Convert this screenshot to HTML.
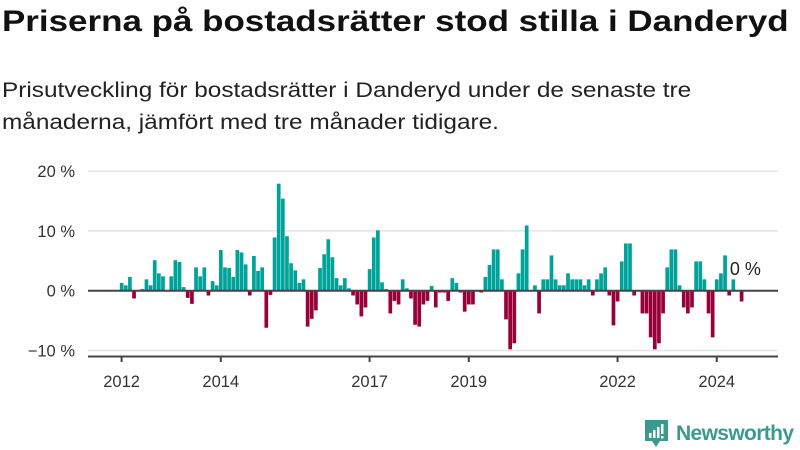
<!DOCTYPE html>
<html><head><meta charset="utf-8"><style>
body{margin:0;width:800px;height:450px;background:#fff;font-family:"Liberation Sans",sans-serif;overflow:hidden;position:relative}
h1{position:absolute;left:2px;top:5px;margin:0;font-size:30px;font-weight:bold;color:#111;transform-origin:0 0;transform:scaleX(1.165);white-space:nowrap}
p.sub{position:absolute;left:2px;top:75px;margin:0;font-size:21px;line-height:32px;color:#222;transform-origin:0 0;transform:scaleX(1.16);white-space:nowrap}
svg{position:absolute;left:0;top:0}
</style></head><body>
<h1>Priserna på bostadsrätter stod stilla i Danderyd</h1>
<p class="sub">Prisutveckling för bostadsrätter i Danderyd under de senaste tre<br>månaderna, jämfört med tre månader tidigare.</p>
<svg id="chart" width="800" height="450"></svg>
<script>
const startYear = 2012;
const values = [1.3,0.9,2.3,-1.3,0,0.3,1.9,0.9,5.1,2.9,2.4,0,2.4,5.1,4.8,0.6,-1.2,-2.2,3.9,2.4,3.9,-0.8,1.6,0.9,6.8,3.9,3.8,2.3,6.8,6.4,4.4,-0.8,5.8,3.3,3.9,-6.2,-0.7,8.9,17.9,15.4,9.1,4.6,3.4,1.3,1.9,-6.0,-4.7,-3.3,3.8,6.1,8.6,
5.6,2.1,0.9,2.1,0.4,-0.8,-2.3,-4.3,-2.8,3.6,8.9,10.1,1.4,0.3,-3.8,-1.7,-2.3,1.9,0.4,-1.3,-5.7,-6.0,-2.3,-1.7,0.8,-2.8,-0.3,-0.3,-1.7,2.1,1.3,-0.3,-3.5,-2.3,-2.3,0,-0.3,2.3,4.3,6.9,6.9,1.9,-4.8,-9.8,-8.8,2.9,6.9,10.9,0,0.9,-3.8,1.9,1.9,5.9,1.9,0.9,
0.9,2.9,1.9,1.9,1.9,0.9,1.9,-0.8,1.9,2.9,3.9,-0.8,-5.8,-1.8,4.9,7.9,7.9,-0.8,0,-3.8,-3.8,-7.8,-9.8,-8.8,-3.8,3.9,6.9,6.9,0.9,-2.8,-3.8,-2.8,4.9,4.9,1.9,-3.8,-7.8,1.9,2.9,5.9,-0.8,1.9,0,-1.8,0];
const yTicks = [-10,0,10,20];
const yTickLabels = ["−10 %","0 %","10 %","20 %"];
const xTickYears = [2012,2014,2017,2019,2022,2024];
const lastLabel = "0 %";

const NS="http://www.w3.org/2000/svg";
const svg=document.getElementById('chart');
const monthW=4.133, x0=119.8;
function x(i){return x0+i*monthW;}
function xYear(yr){return x((yr-startYear)*12)+1.8;}
function y(v){return 290.7-v*5.98;}
function mk(tag,attrs){const e=document.createElementNS(NS,tag);for(const k in attrs)e.setAttribute(k,attrs[k]);svg.appendChild(e);return e;}
yTicks.forEach((t,k)=>{
  if(t!==0){const g=mk('line',{x1:88,x2:778,y1:y(t),y2:y(t),stroke:'#e3e3e3','stroke-width':1.5});
  
  }
  const l=mk('text',{x:75,y:y(t)+6,'text-anchor':'end','font-size':16.5,fill:'#333','font-family':'Liberation Sans, sans-serif'});
  l.textContent=yTickLabels[k];
  
  
});
values.forEach((v,i)=>{
  if(v===0)return;
  const top=Math.min(y(v),y(0)), h=Math.abs(y(v)-y(0));
  const r=mk('rect',{x:x(i),y:top,width:3.7,height:h,fill:v>0?'#00a39a':'#990038'});
  
  
});
const z=mk('line',{x1:88,x2:778,y1:y(0),y2:y(0),stroke:'#444','stroke-width':2});


const ax=mk('line',{x1:88,x2:778,y1:356.5,y2:356.5,stroke:'#444','stroke-width':2});


xTickYears.forEach(yr=>{
  const tk=mk('line',{x1:xYear(yr),x2:xYear(yr),y1:356,y2:362,stroke:'#444','stroke-width':2});
  
  
  const t=mk('text',{x:xYear(yr),y:387,'text-anchor':'middle','font-size':16.5,fill:'#333','font-family':'Liberation Sans, sans-serif'});
  t.textContent=yr;
  
  
});
const ll=mk('text',{x:x(values.length-1)-14,y:275,'font-size':18,fill:'#222','font-family':'Liberation Sans, sans-serif'});
ll.textContent=lastLabel;


</script>
<svg width="800" height="450" style="pointer-events:none">
<path d="M645 420 h23 v21 h-8 l-4 6 l-4 -6 h-7 z" fill="#3a9a8f"/>
<rect x="649" y="433" width="2.5" height="5" fill="#fff"/><rect x="653" y="430" width="2.5" height="8" fill="#fff"/><rect x="657" y="427" width="2.5" height="11" fill="#fff"/><rect x="661" y="424" width="2.5" height="10" fill="#fff"/><rect x="661" y="436" width="2.5" height="2.5" fill="#fff"/>
<text x="676" y="440" font-size="21" font-weight="bold" fill="#3a9a8f" font-family="Liberation Sans, sans-serif" textLength="118">Newsworthy</text>
</svg>
</body></html>
